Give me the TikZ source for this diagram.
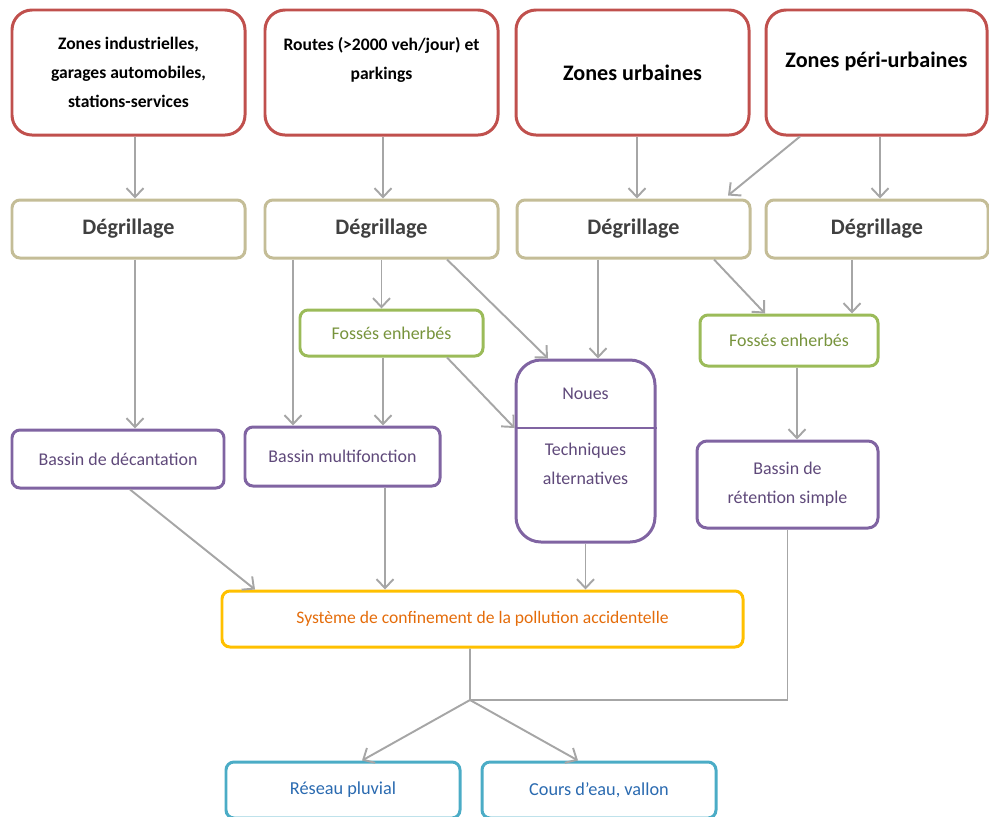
\documentclass[tikz,border=0pt]{standalone}
\usepackage{fontspec}
\setmainfont{Carlito}
\usepackage{tikz}
\usetikzlibrary{arrows.meta, positioning, calc}

\definecolor{redline}{HTML}{C0504D}
\definecolor{tanline}{HTML}{C4BD97}
\definecolor{greenline}{HTML}{9BBB59}
\definecolor{greentext}{HTML}{77933C}
\definecolor{purpleline}{HTML}{8064A2}
\definecolor{purpletext}{HTML}{5F497A}
\definecolor{yellowline}{HTML}{FFC000}
\definecolor{orangetext}{HTML}{E46C0A}
\definecolor{blueline}{HTML}{4BACC6}
\definecolor{bluetext}{HTML}{2A6AB0}
\definecolor{arrowgray}{HTML}{A6A6A6}

\begin{document}
\begin{tikzpicture}[
        x=0.2mm, y=-0.2mm,
        srcbox/.style={rectangle, draw=redline, line width=1.7pt, rounded corners=4mm, minimum width=46.6mm, minimum height=25mm, align=center, font=\fontsize{10}{16.5}\selectfont\bfseries},
        bigsrc/.style={srcbox, font=\fontsize{12.6}{15}\selectfont\bfseries},
        grillbox/.style={rectangle, draw=tanline, line width=1.7pt, rounded corners=1.6mm, minimum width=46.6mm, minimum height=11.6mm, align=center, text=black!75, font=\fontsize{12.6}{15}\selectfont\bfseries},
        grassbox/.style={rectangle, draw=greenline, line width=1.7pt, rounded corners=1.6mm, minimum width=36.6mm, minimum height=9.2mm, align=center, text=greentext, font=\fontsize{10.2}{16.5}\selectfont},
        basin/.style={rectangle, draw=purpleline, line width=1.7pt, rounded corners=1.6mm, minimum width=42.4mm, minimum height=11.6mm, align=center, text=purpletext, font=\fontsize{10.2}{16.5}\selectfont},
        trapbox/.style={rectangle, draw=yellowline, line width=1.7pt, rounded corners=1.6mm, minimum width=104.2mm, minimum height=11.2mm, align=center, text=orangetext, font=\fontsize{10}{16.5}\selectfont},
        outbox/.style={rectangle, draw=blueline, line width=1.7pt, rounded corners=1.6mm, minimum width=46.8mm, minimum height=11.2mm, align=center, text=bluetext, font=\fontsize{10.4}{16.5}\selectfont},
        arrow/.style={-{Straight Barb[length=1.8mm, width=3.4mm]}, line width=1.1pt, draw=arrowgray}
    ]
        \useasboundingbox (0,0) rectangle (989,816);

        % Nodes
        \node[srcbox] (indus) at (128.5,72.5) {Zones industrielles,\\garages automobiles,\\stations-services};
        \node[srcbox] (routes) at (381.5,72.5) {Routes (>2000 veh/jour) et\\parkings\\\mbox{}};
        \node[bigsrc] (urb) at (632.5,72.5) {Zones urbaines};
        \node[bigsrc, minimum width=44.2mm] (peri) at (876.5,72.5) {Zones péri-urbaines\\\mbox{}};

        \node[grillbox] (degr1) at (128.5,229) {Dégrillage};
        \node[grillbox] (degr2) at (381.5,229) {Dégrillage};
        \node[grillbox] (degr3) at (633.5,229) {Dégrillage};
        \node[grillbox, minimum width=44.4mm] (degr4) at (877,229) {Dégrillage};

        \node[grassbox] (fosses1) at (391.5,333) {Fossés enherbés};
        \node[grassbox, minimum width=35.6mm, minimum height=10.2mm] (fosses2) at (789,340.5) {Fossés enherbés};

        \node[basin, rounded corners=5mm, minimum width=27.8mm, minimum height=36.4mm] (noues) at (585.5,451) {Noues\\[5.4mm]Techniques\\alternatives\\\mbox{}};
        \node[basin] (decant) at (118,459) {Bassin de décantation};
        \node[basin, minimum width=39mm, minimum height=11.8mm] (multi) at (342.5,456.5) {Bassin multifonction};
        \node[basin, rounded corners=2mm, minimum width=36.2mm, minimum height=17.4mm] (reten) at (787.5,484.5) {Bassin de\\rétention simple};

        \node[trapbox] (systeme) at (482.5,619) {Système de confinement de la pollution accidentelle};

        \node[outbox] (reseau) at (343,790) {Réseau pluvial};
        \node[outbox] (cours) at (599,790) {Cours d’eau, vallon};

        \coordinate (junction) at (470,700);
        \draw[purpleline, line width=0.8pt] ([yshift=4.6mm]noues.west) -- ([yshift=4.6mm]noues.east);

        % Arrows
        \draw[arrow] ([xshift=1.3mm]indus.south) -- ([xshift=1.3mm]indus.south |- degr1.north);
        \draw[arrow] ([xshift=0.3mm]routes.south) -- ([xshift=0.3mm]routes.south |- degr2.north);
        \draw[arrow] ([xshift=0.9mm]urb.south) -- ([xshift=0.9mm]urb.south |- degr3.north);
        \draw[arrow] ([xshift=-15.3mm]peri.south) -- ([xshift=18.9mm, yshift=0.6mm]degr3.north);
        \draw[arrow] ([xshift=0.7mm]peri.south) -- ([xshift=0.7mm]peri.south |- degr4.north);

        \draw[arrow] ([xshift=1.3mm]degr1.south) -- ([xshift=1.3mm]degr1.south |- decant.north);
        \draw[arrow] ([xshift=-17.7mm]degr2.south) -- ([xshift=-17.7mm]degr2.south |- multi.north);
        \draw[arrow] (degr2.south) -- (degr2.south |- fosses1.north);
        \draw[arrow] ([xshift=13.1mm]degr2.south) -- ([xshift=-7.5mm]noues.north);
        \draw[arrow] ([xshift=-7.1mm]degr3.south) -- ([xshift=-7.1mm]degr3.south |- noues.north);
        \draw[arrow] ([xshift=16.1mm]degr3.south) -- ([xshift=-4.8mm]fosses2.north);
        \draw[arrow] ([xshift=-5mm]degr4.south) -- ([xshift=-5mm]degr4.south |- fosses2.north);

        \draw[arrow] ([xshift=-1.7mm]fosses1.south) -- ([xshift=-1.7mm]fosses1.south |- multi.north);
        \draw[arrow] ([xshift=11.1mm]fosses1.south) -- ([yshift=4.6mm]noues.west);
        \draw[arrow] ([xshift=1.6mm]fosses2.south) -- ([xshift=1.6mm]fosses2.south |- reten.north);

        \draw[arrow] ([xshift=2.4mm]decant.south) -- ([xshift=-45.5mm]systeme.north);
        \draw[arrow] ([xshift=8.5mm]multi.south) -- ([xshift=8.5mm]multi.south |- systeme.north);
        \draw[arrow] (noues.south) -- (noues.south |- systeme.north);

        \draw[arrowgray, line width=1.1pt] ([xshift=-2.5mm]systeme.south) -- (junction);
        \draw[arrowgray, line width=1.1pt] (reten.south) |- (junction);
        \draw[arrow] (junction) -- ([xshift=3.8mm]reseau.north);
        \draw[arrow] (junction) -- ([xshift=-4.2mm]cours.north);
    \end{tikzpicture}
\end{document}
